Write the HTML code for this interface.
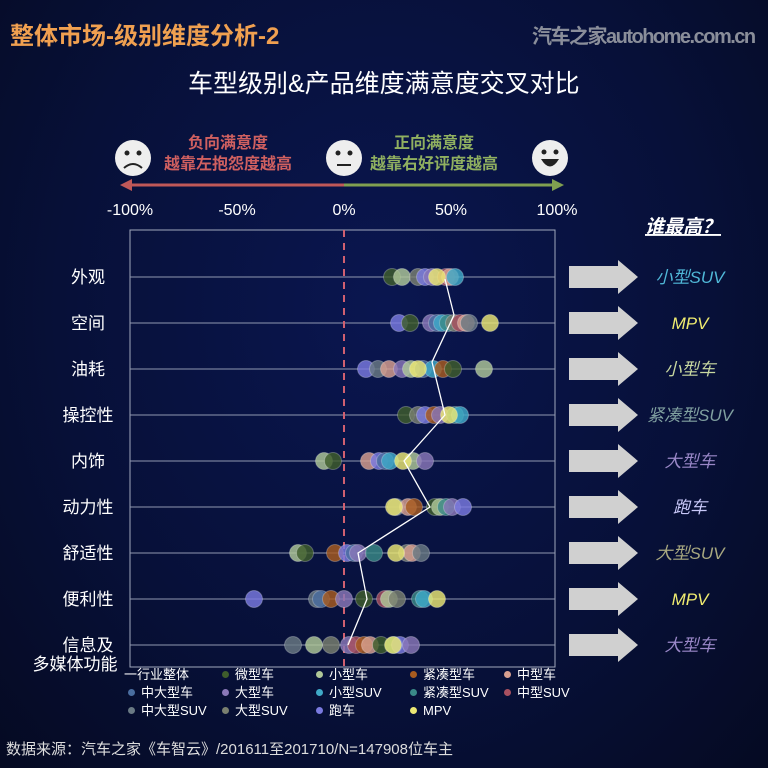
<!DOCTYPE html><html><head><meta charset="utf-8"><style>
body{margin:0;width:768px;height:768px;background:radial-gradient(ellipse at 50% 40%,#0a1650 0%,#071038 60%,#050a22 100%);font-family:"Liberation Sans","Noto Sans CJK SC",sans-serif;overflow:hidden;position:relative;color:#fff}
.a{position:absolute;white-space:nowrap}
</style></head><body>
<div class="a" style="left:10px;top:16px;font-size:24px;font-weight:bold;color:#f0a050">整体市场-级别维度分析-2</div>
<div class="a" style="left:532px;top:20px;font-size:20px;font-weight:bold;color:#8a8e9a;letter-spacing:-1.5px">汽车之家autohome.com.cn</div>
<div class="a" style="left:188px;top:64px;font-size:25px;color:#fff">车型级别&amp;产品维度满意度交叉对比</div>
<div class="a" style="left:164px;top:133px;font-size:16px;font-weight:bold;color:#d06060;text-align:center;line-height:21px">负向满意度<br>越靠左抱怨度越高</div>
<div class="a" style="left:370px;top:133px;font-size:16px;font-weight:bold;color:#90b060;text-align:center;line-height:21px">正向满意度<br>越靠右好评度越高</div>
<svg class="a" style="left:0;top:0" width="768" height="768">
<g fill="#eee" stroke="none"><circle cx="133" cy="158" r="18"/><circle cx="344" cy="158" r="18"/><circle cx="550" cy="158" r="18"/></g>
<g fill="#222"><circle cx="127" cy="153" r="2.5"/><circle cx="139" cy="153" r="2.5"/><circle cx="338" cy="153" r="2.5"/><circle cx="350" cy="153" r="2.5"/><circle cx="544" cy="152" r="2.5"/><circle cx="556" cy="152" r="2.5"/></g>
<path d="M124 168 Q133 160 142 168" stroke="#222" stroke-width="2" fill="none"/>
<line x1="337" y1="165" x2="351" y2="165" stroke="#222" stroke-width="2"/>
<path d="M541 159 Q550 174 559 159 Z" fill="#222"/>
<line x1="128" y1="185" x2="344" y2="185" stroke="#c05858" stroke-width="3"/>
<path d="M120 185 L132 179 L132 191 Z" fill="#c05858"/>
<line x1="344" y1="185" x2="556" y2="185" stroke="#80a050" stroke-width="3"/>
<path d="M564 185 L552 179 L552 191 Z" fill="#80a050"/>
<g fill="#fff" font-size="16" text-anchor="middle"><text x="130" y="215">-100%</text><text x="237" y="215">-50%</text><text x="344" y="215">0%</text><text x="451" y="215">50%</text><text x="557" y="215">100%</text></g>
<text x="645" y="233" fill="#fff" font-size="19" font-weight="bold" font-style="italic" text-decoration="underline">谁最高？</text>
<rect x="130" y="230" width="425" height="437" fill="none" stroke="#a0a8bc" stroke-width="1"/>
<g id="rows"></g>
<line x1="344" y1="230" x2="344" y2="667" stroke="#d06070" stroke-width="2" stroke-dasharray="7,6"/>
<g id="dots"></g>
<polyline id="ind" fill="none" stroke="#fff" stroke-width="1.3"/>
<g id="arr"></g>
</svg>
<div class="a" style="left:124px;top:666px;font-size:13px;line-height:18px;width:470px">
<div id="leg" style="display:grid;grid-template-columns:94px 94px 94px 94px 94px"></div></div>
<div class="a" style="left:6px;top:738px;font-size:15px;color:#ddd">数据来源：汽车之家《车智云》/201611至201710/N=147908位车主</div>
<script>
var C=['#3f5e2c','#b0c898','#a85c20','#d8a090','#4a6ea0','#8a78b8','#40aac8','#3a8a88','#a85060','#6a7a84','#7a8070','#7a7ae0','#ece874'];
var N=['微型车','小型车','紧凑型车','中型车','中大型车','大型车','小型SUV','紧凑型SUV','中型SUV','中大型SUV','大型SUV','跑车','MPV'];
var labels=['外观','空间','油耗','操控性','内饰','动力性','舒适性','便利性','信息及'];
var Y=[277,323,369,415,461,507,553,599,645];
var D=[
[[392,0],[402,1],[418,10],[425,11],[432,5],[446,8],[450,3],[455,6],[437,12]],
[[399,11],[410,0],[431,5],[437,4],[442,6],[448,7],[454,10],[460,8],[466,3],[469,9],[490,12]],
[[366,11],[378,9],[389,3],[402,5],[411,1],[423,4],[433,6],[443,2],[453,0],[484,1],[418,12]],
[[406,0],[418,10],[425,11],[434,2],[440,5],[455,7],[460,6],[449,12]],
[[324,1],[333,0],[369,3],[379,11],[385,4],[390,6],[413,1],[425,5],[403,12]],
[[396,9],[408,3],[414,2],[435,0],[440,1],[446,7],[452,5],[463,11],[394,12]],
[[298,1],[305,0],[335,2],[347,11],[354,4],[358,5],[374,7],[407,10],[412,3],[421,9],[396,12]],
[[254,11],[317,9],[321,4],[331,2],[344,5],[364,0],[385,8],[389,1],[397,10],[420,7],[424,6],[437,12]],
[[293,9],[314,1],[331,10],[349,5],[356,8],[364,2],[370,3],[381,0],[394,7],[400,11],[411,5],[393,12]]];
var ns='http://www.w3.org/2000/svg',rows=document.getElementById('rows'),dots=document.getElementById('dots');
function el(t,a,p){var e=document.createElementNS(ns,t);for(var k in a)e.setAttribute(k,a[k]);p.appendChild(e);return e}
Y.forEach(function(y,i){el('line',{x1:130,x2:555,y1:y,y2:y,stroke:'#9098b0','stroke-width':1},rows);
var t=el('text',{x:88,y:y+6,fill:'#fff','font-size':17,'text-anchor':'middle'},rows);t.textContent=labels[i];
D[i].forEach(function(d){el('circle',{cx:d[0],cy:y,r:8.5,fill:C[d[1]],'fill-opacity':0.82,stroke:'#fff','stroke-opacity':0.25},dots)});});
var t2=el('text',{x:75,y:670,fill:'#fff','font-size':17,'text-anchor':'middle'},rows);t2.textContent='多媒体功能';
document.getElementById('ind').setAttribute('points','445,279 454,315 432,362 445,415 404,461 430,507 358,553 367,599 348,645');
var R=[['小型SUV','#50b8d8'],['MPV','#f0ec70'],['小型车','#c8d8a0'],['紧凑型SUV','#80a0a0'],['大型车','#9a88c8'],['跑车','#c8c8f8'],['大型SUV','#a8a880'],['MPV','#f0ec70'],['大型车','#9a88c8']];
var A=document.getElementById('arr');
Y.forEach(function(y,i){el('path',{d:'M569 '+(y-11)+' L618 '+(y-11)+' L618 '+(y-17)+' L638 '+y+' L618 '+(y+17)+' L618 '+(y+11)+' L569 '+(y+11)+' Z',fill:'#d0d0d0'},A);
var t=el('text',{x:690,y:y+6,fill:R[i][1],'font-size':17,'font-style':'italic','text-anchor':'middle'},A);t.textContent=R[i][0];});
var L=document.getElementById('leg'),h='<div>一行业整体</div>';
for(var i=0;i<13;i++){h+='<div><span style="display:inline-block;width:7px;height:7px;border-radius:50%;background:'+C[i]+';margin:0 6px 1px 4px"></span>'+N[i]+'</div>'}
L.innerHTML=h;
</script>
</body></html>
